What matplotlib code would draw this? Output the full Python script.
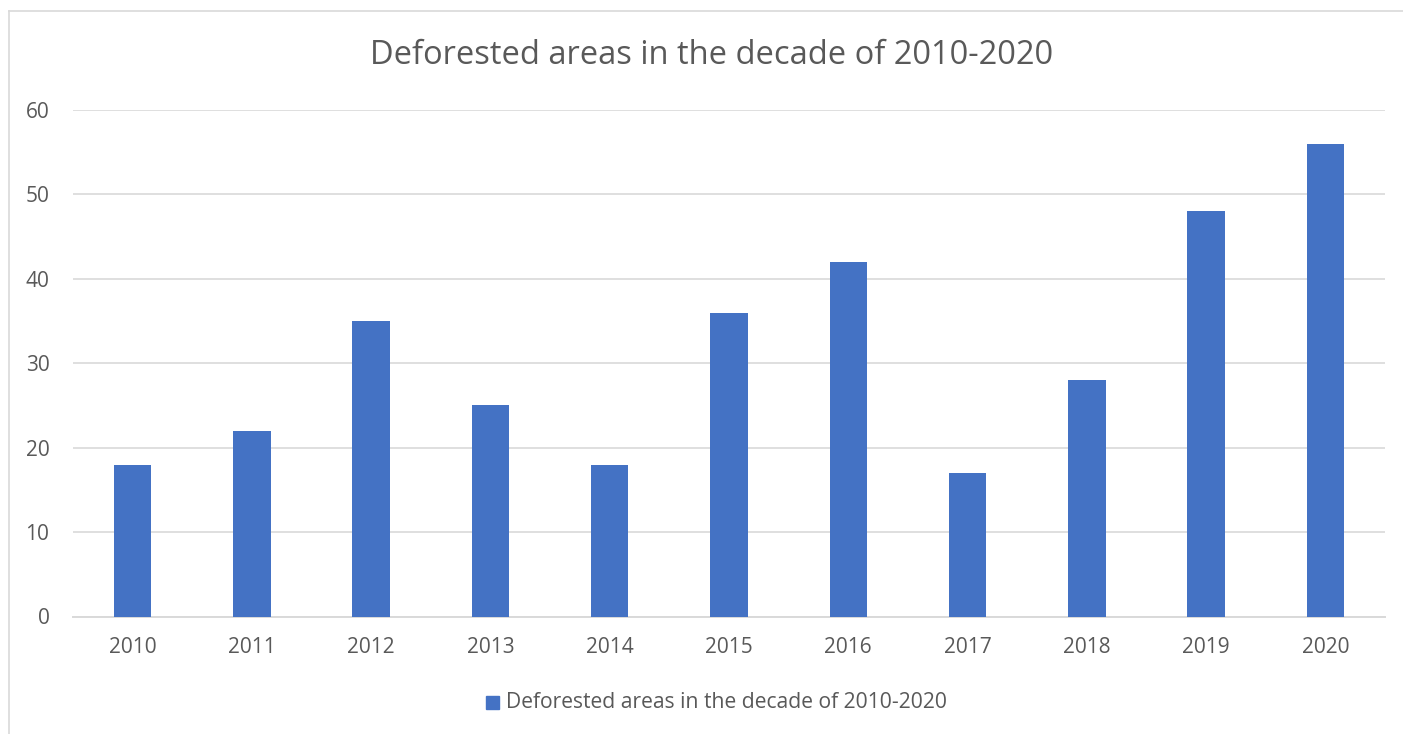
import matplotlib
matplotlib.use("Agg")
import matplotlib.pyplot as plt
from matplotlib.patches import Rectangle

years = ["2010", "2011", "2012", "2013", "2014", "2015", "2016", "2017", "2018", "2019", "2020"]
values = [18, 22, 35, 25, 18, 36, 42, 17, 28, 48, 56]
series_name = "Deforested areas in the decade of 2010-2020"
title = "Deforested areas in the decade of 2010-2020"
yticks = [0, 10, 20, 30, 40, 50, 60]

W, H = 1403, 734
fig = plt.figure(figsize=(W / 100, H / 100), dpi=100)
plt.rcParams['font.family'] = ['Open Sans', 'DejaVu Sans']

# chart border
fig.add_artist(plt.Line2D([8.5 / W, 8.5 / W], [0, 1 - 10.5 / H], transform=fig.transFigure, color="#d9d9d9", lw=1.2))
fig.add_artist(plt.Line2D([8.5 / W, 1], [1 - 10.5 / H, 1 - 10.5 / H], transform=fig.transFigure, color="#d9d9d9", lw=1.2))

left, right = 73, 1385
top, bottom = 110, 616.5
ax = fig.add_axes([left / W, 1 - bottom / H, (right - left) / W, (bottom - top) / H])

x = range(len(years))
ax.bar(x, values, width=0.314, color="#4472c4", zorder=3, label=series_name)
ax.set_xlim(-0.5, len(years) - 0.5)
ax.set_ylim(0, 60)
ax.set_yticks(yticks)
ax.set_xticks(list(x))
ax.set_xticklabels(years)
ax.grid(axis="y", color="#d9d9d9", lw=1.2, zorder=0)
for s in ["top", "right", "left"]:
    ax.spines[s].set_visible(False)
ax.spines["bottom"].set_color("#d9d9d9")
ax.spines["bottom"].set_linewidth(1.4)
ax.tick_params(axis="both", length=0, labelsize=15, colors="#595959")
ax.tick_params(axis="x", pad=15)
ax.tick_params(axis="y", pad=17)

fig.text(712 / W, 1 - 56 / H, title, ha="center", va="center", fontsize=23.5, color="#595959")

# legend
fig.add_artist(Rectangle((486 / W, 1 - 709 / H), 13 / W, 13 / H, transform=fig.transFigure, color="#4472c4"))
fig.text(506 / W, 1 - 702 / H, series_name, ha="left", va="center", fontsize=15.2, color="#595959")

fig.savefig("out.png", dpi=100, facecolor="white")
